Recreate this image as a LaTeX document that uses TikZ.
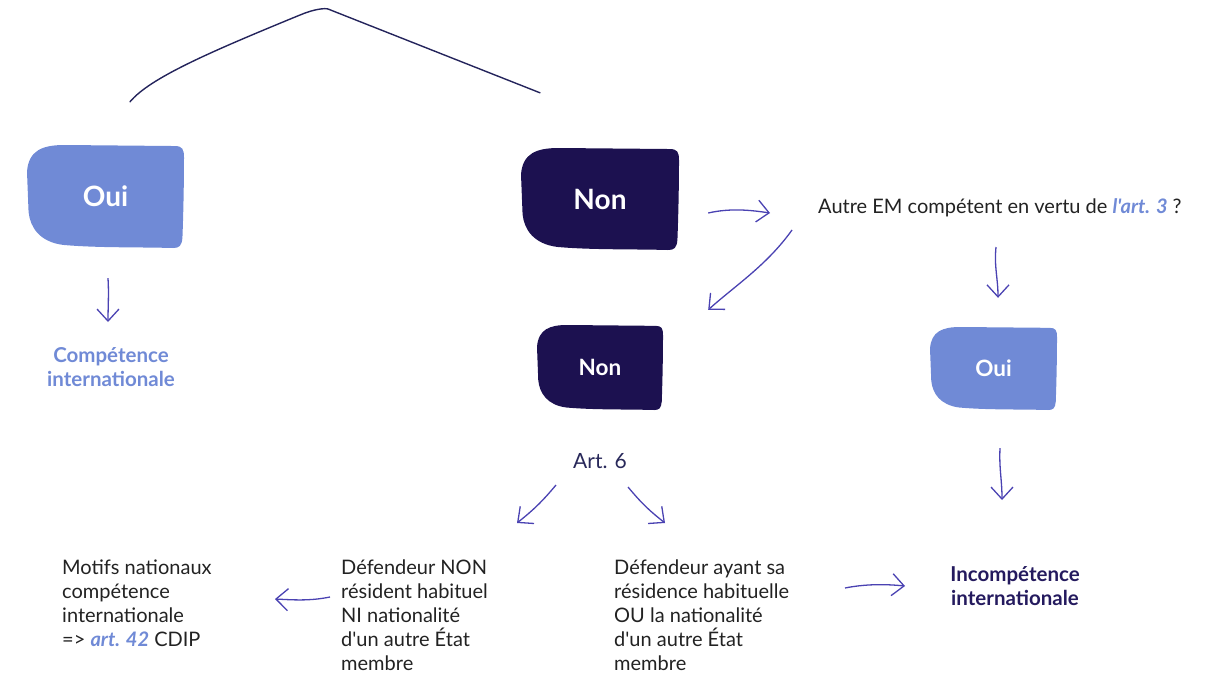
\documentclass[tikz,border=0pt]{standalone}
\usepackage{fontspec}
\setmainfont{Lato}[Ligatures=TeXOff]
\usetikzlibrary{arrows.meta,backgrounds}

\definecolor{lightblue}{RGB}{112,138,214}
\definecolor{navy}{RGB}{28,17,80}
\definecolor{arrowblue}{RGB}{74,66,178}
\definecolor{bodytext}{RGB}{34,34,34}
\definecolor{curvenavy}{RGB}{36,36,92}
\definecolor{titlenavy}{RGB}{36,26,94}
\definecolor{artnavy}{RGB}{40,40,90}

\tikzset{
  blobtext/.style={text=white, font=\bfseries\fontsize{#1}{#1}\selectfont, inner sep=0pt},
  flow/.style={draw=arrowblue, line width=1.3pt,
    -{Straight Barb[length=12pt,width=22pt,line width=1.3pt]}},
  body/.style={text=bodytext, font=\fontsize{20}{24}\selectfont, align=left, inner sep=0pt},
  label/.style={font=\bfseries\fontsize{20.5}{24}\selectfont, align=center, inner sep=0pt},
}

% Hand-drawn looking blob behind a named node: node, width, height, colour
\newcommand\blobfill[4]{%
  \begin{pgfonlayer}{background}
  \begin{scope}[shift={(#1.center)}, x={(#2pt,0pt)}, y={(0pt,#3pt)}]
    \fill[#4] (-0.5,0.24) .. controls (-0.49,0.45) and (-0.4,0.5) .. (-0.26,0.5)
      -- (0.44,0.49) .. controls (0.49,0.49) and (0.5,0.46) .. (0.5,0.38)
      .. controls (0.5,0.1) and (0.495,-0.2) .. (0.49,-0.4)
      .. controls (0.485,-0.48) and (0.47,-0.5) .. (0.43,-0.5)
      .. controls (0.2,-0.49) and (-0.05,-0.5) .. (-0.27,-0.47)
      .. controls (-0.42,-0.44) and (-0.48,-0.3) .. (-0.49,-0.15)
      -- cycle;
  \end{scope}
  \end{pgfonlayer}}

\begin{document}
\begin{tikzpicture}[x=1pt, y=-1pt]
  \useasboundingbox (0,0) rectangle (1220,675);

  % decision blobs
  \node[blobtext=28, minimum width=157pt, minimum height=103pt] (oui1) at (105.5,196.5) {Oui};
  \node[blobtext=28, minimum width=158pt, minimum height=102pt] (non1) at (600,199) {Non};
  \node[blobtext=22.5, minimum width=126pt, minimum height=85pt] (non2) at (600,367.5) {Non};
  \node[blobtext=22.5, minimum width=127pt, minimum height=83pt] (oui2) at (993.5,368.5) {Oui};
  \blobfill{oui1}{157}{103}{lightblue}
  \blobfill{non1}{158}{102}{navy}
  \blobfill{non2}{126}{85}{navy}
  \blobfill{oui2}{127}{83}{lightblue}

  % texts (the base anchor of a multi-line node sits on its last line)
  \node[label, text=lightblue, anchor=base] (comp) at (111,386) {Compétence\\internationale};
  \node[body, anchor=base west] (q) at (818,213)
    {Autre EM compétent en vertu de {\color{lightblue}\bfseries\itshape l'art. 3} ?};
  \node[body, text=artnavy, font=\fontsize{21}{22}\selectfont, anchor=base] (art6) at (600,468) {Art. 6};
  \node[body, anchor=base west] (motifs) at (62,646)
    {Motifs nationaux\\compétence\\internationale\\=> {\color{lightblue}\bfseries\itshape art. 42} CDIP};
  \node[body, anchor=base west] (def1) at (341,670)
    {Défendeur NON\\résident habituel\\NI nationalité\\d'un autre État\\membre};
  \node[body, anchor=base west] (def2) at (614,670)
    {Défendeur ayant sa\\résidence habituelle\\OU la nationalité\\d'un autre État\\membre};
  \node[label, text=titlenavy, anchor=base] (incomp) at (1015,605) {Incompétence\\internationale};

  % branches coming down from above
  \coordinate (apex) at (328,9);
  \draw[curvenavy, line width=1.4pt, line cap=round]
    ([shift={(24.5,-43)}]oui1.north) .. controls +(20,-24) and +(-90,37) .. ([shift={(-28,6)}]apex)
    .. controls +(14,-6) and +(-3,-1) .. (apex)
    -- ([shift={(-60,-55)}]non1.north);

  % connectors
  \draw[flow] ([shift={(2.5,30)}]oui1.south) .. controls +(1,15) and +(0,-15) .. ([shift={(-3,-64)}]comp.base);
  \draw[flow] ([shift={(29,14)}]non1.east) .. controls +(22,-5) and +(-20,-3) .. ([shift={(-48,0)}]q.base west);
  \draw[flow] ([shift={(-26,17)}]q.base west) .. controls +(-25,35) and +(28,-25) .. ([shift={(45,-15)}]non2.north east);
  \draw[flow] ([shift={(178,34)}]q.base west) .. controls +(-2,20) and +(0,-20) .. ([shift={(4.5,-29)}]oui2.north);
  \draw[flow] ([shift={(6.5,38)}]oui2.south) .. controls +(-1,20) and +(0,-20) .. ([shift={(-13,-105)}]incomp.base);
  \draw[flow] ([shift={(-44,17)}]art6.base) .. controls +(-15,18) and +(15,-12) .. ([shift={(176,-147)}]def1.base west);
  \draw[flow] ([shift={(28,19)}]art6.base) .. controls +(15,18) and +(-15,-12) .. ([shift={(51,-147)}]def2.base west);
  \draw[flow] ([shift={(-11,-73)}]def1.base west) .. controls +(-20,4) and +(20,1) .. ([shift={(213,-47)}]motifs.base west);
  \draw[flow] ([shift={(231,-82)}]def2.base west) .. controls +(20,-4) and +(-20,-2) .. ([shift={(-110,-19)}]incomp.base);
\end{tikzpicture}
\end{document}
